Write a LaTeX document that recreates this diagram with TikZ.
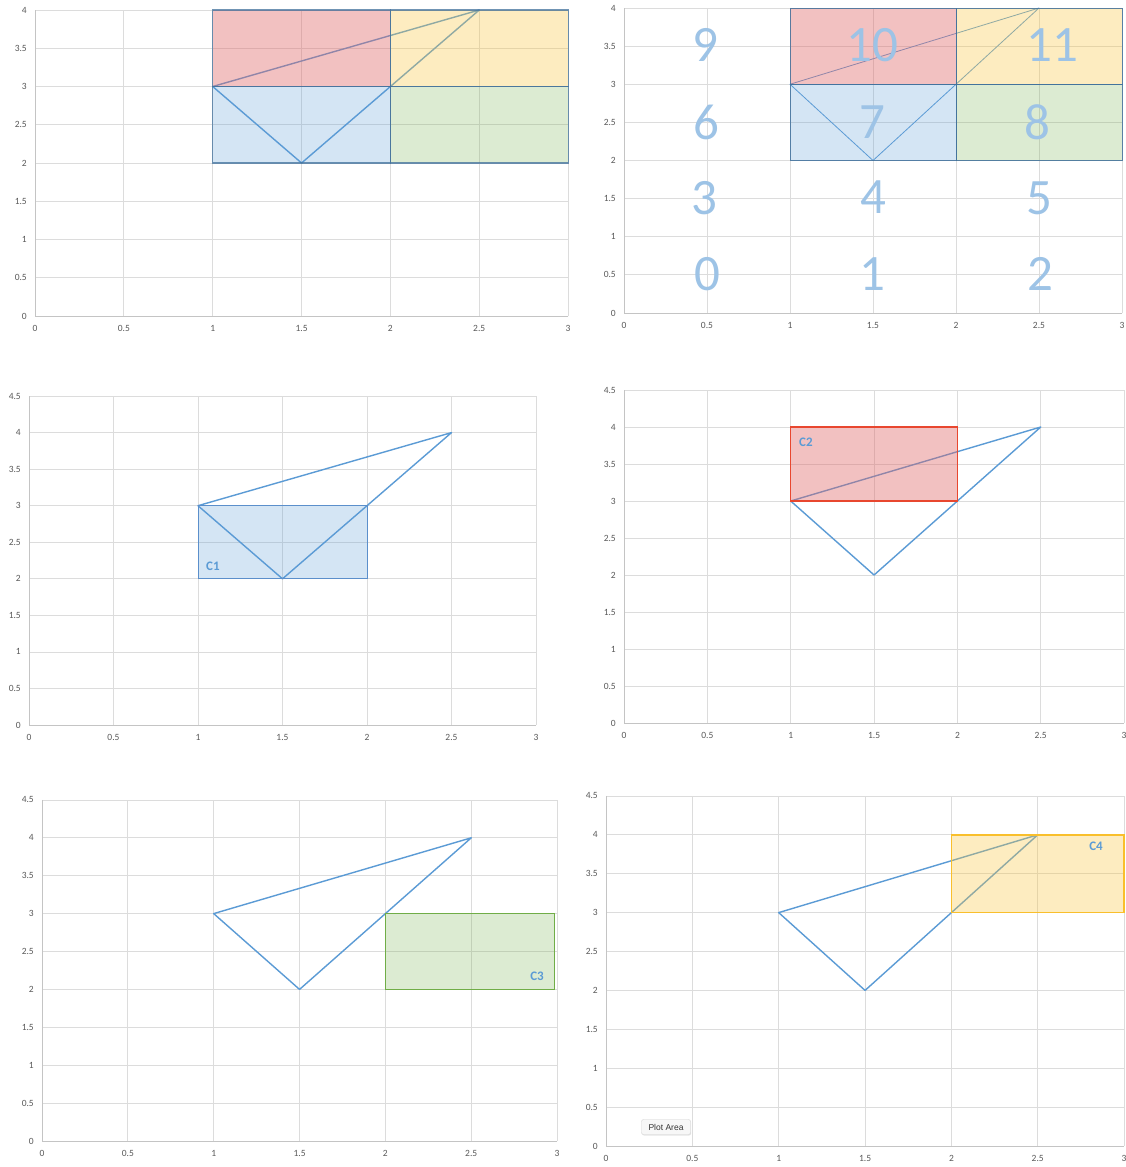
\documentclass[tikz,border=0pt]{standalone}
\usepackage{fontspec}
\setmainfont{Carlito}
\newfontfamily\tipfont{Liberation Sans}
\usetikzlibrary{shadows}
\definecolor{gridc}{HTML}{DCDCDC}
\definecolor{axc}{HTML}{C4C4C4}
\definecolor{tickc}{HTML}{595959}
\definecolor{triblue}{HTML}{5B9BD5}
\definecolor{redbase}{HTML}{E06666}
\definecolor{yelbase}{HTML}{F9C640}
\definecolor{bluebase}{HTML}{5B9BD5}
\definecolor{grnbase}{HTML}{70AD47}
\definecolor{numc}{HTML}{9DC3E6}
\definecolor{rectedge}{HTML}{41719C}
\definecolor{redline}{HTML}{E8472F}
\definecolor{yelline}{HTML}{F9BF2C}
\definecolor{grnline}{HTML}{70AD47}
\definecolor{c1line}{HTML}{5B8FCB}
\tikzset{
  gridline/.style={draw=gridc, line width=0.8pt},
  axisline/.style={draw=axc, line width=1pt},
  ticklbl/.style={font=\fontsize{9.5}{10}\selectfont, text=tickc, inner sep=0pt},
  tri/.style={draw=triblue, line width=1.4pt, line join=round},
  trithin/.style={draw=triblue, line width=0.8pt, line join=round},
  redfill/.style={fill=redbase, fill opacity=0.4},
  yelfill/.style={fill=yelbase, fill opacity=0.33},
  bluefill/.style={fill=bluebase, fill opacity=0.26},
  grnfill/.style={fill=grnbase, fill opacity=0.24},
  edgeA/.style={draw=rectedge, draw opacity=0.75, line width=1.1pt},
  edgeB/.style={draw=rectedge, draw opacity=0.85, line width=1pt},
  bignum/.style={font=\fontsize{51}{51}\selectfont, text=numc, inner sep=0pt},
  clabel/.style={font=\fontsize{13}{13}\selectfont\bfseries, text=triblue, inner sep=0pt},
  tooltip/.style={draw=black!18, fill=black!3, rounded corners=2pt, font=\tipfont\fontsize{8.5}{9}\selectfont,
    text=black!80, minimum width=49pt, minimum height=15pt, inner sep=1pt,
    drop shadow={opacity=0.2, shadow xshift=0.6pt, shadow yshift=-1pt}},
}
% #1 name prefix, #2 ymax, #3 list of y values
\newcommand\chartframe[3]{%
  \foreach \v [count=\k] in {0,0.5,1,1.5,2,2.5,3} {%
    \draw[gridline] (\v,0) -- (\v,#2);
    \node[ticklbl] (#1x\k) at ([yshift=-12pt]\v,0) {\v};}
  \foreach \v [count=\k] in {#3} {%
    \draw[gridline] (0,\v) -- (3,\v);
    \node[ticklbl, anchor=east] (#1y\k) at ([xshift=-8pt]0,\v) {\v};}
  \draw[axisline] (0,#2) -- (0,0) -- (3,0);
}
\newcommand\trianglepts[1]{%
  \coordinate (#1a) at (1,3);
  \coordinate (#1b) at (1.5,2);
  \coordinate (#1c) at (2,3);
  \coordinate (#1d) at (2.5,4);
}
\begin{document}
\begin{tikzpicture}[x=1pt,y=1pt]
\useasboundingbox[fill=white] (0,0) rectangle (1126,-1167);

% ---------- Panel 1 ----------
\begin{scope}[shift={(35pt,-316pt)}, x={(177.7pt,0pt)}, y={(0pt,76.5pt)}]
  \chartframe{pA}{4}{0,0.5,1,1.5,2,2.5,3,3.5,4}
  \trianglepts{pA}
  \draw[tri] (pAa) -- (pAb) -- (pAc) -- (pAd) -- cycle;
  \fill[bluefill] (1,2) rectangle (2,3);
  \fill[grnfill] (2,2) rectangle (3,3);
  \fill[redfill] (1,3) rectangle (2,4);
  \fill[yelfill] (2,3) rectangle (3,4);
  \draw[edgeA] (1,2) rectangle (2,3);
  \draw[edgeA] (2,2) rectangle (3,3);
  \draw[edgeA] (1,3) rectangle (2,4);
  \draw[edgeA] (2,3) rectangle (3,4);
\end{scope}

% ---------- Panel 2 ----------
\begin{scope}[shift={(624pt,-313pt)}, x={(166pt,0pt)}, y={(0pt,76.25pt)}]
  \chartframe{pB}{4}{0,0.5,1,1.5,2,2.5,3,3.5,4}
  \trianglepts{pB}
  \draw[trithin] (pBa) -- (pBb) -- (pBc) -- (pBd) -- cycle;
  \fill[bluefill] (1,2) rectangle (2,3);
  \fill[grnfill] (2,2) rectangle (3,3);
  \fill[redfill] (1,3) rectangle (2,4);
  \fill[yelfill] (2,3) rectangle (3,4);
  \draw[edgeB] (1,2) rectangle (2,3);
  \draw[edgeB] (2,2) rectangle (3,3);
  \draw[edgeB] (1,3) rectangle (2,4);
  \draw[edgeB] (2,3) rectangle (3,4);
\end{scope}
\node[bignum] (n9)  at (705,-45) {9};
\node[bignum] (n10) at (872,-45) {10};
\node[bignum] (n11) at (1052,-45) {11};
\node[bignum] (n6)  at (706,-122) {6};
\node[bignum] (n7)  at (872,-122) {7};
\node[bignum] (n8)  at (1037,-122) {8};
\node[bignum] (n3)  at (704,-198) {3};
\node[bignum] (n4)  at (873,-197) {4};
\node[bignum] (n5)  at (1039,-198) {5};
\node[bignum] (n0)  at (707,-274) {0};
\node[bignum] (n1)  at (872,-274) {1};
\node[bignum] (n2)  at (1040,-274) {2};

% ---------- Panel 3 ----------
\begin{scope}[shift={(29pt,-725pt)}, x={(169pt,0pt)}, y={(0pt,73.1pt)}]
  \chartframe{pC}{4.5}{0,0.5,1,1.5,2,2.5,3,3.5,4,4.5}
  \trianglepts{pC}
  \draw[tri] (pCa) -- (pCb) -- (pCc) -- (pCd) -- cycle;
  \fill[bluefill] (1,2) rectangle (2,3);
  \draw[draw=c1line, line width=1pt] (1,2) rectangle (2,3);
\end{scope}
\node[clabel, anchor=west] (C1) at (206,-566) {C1};

% ---------- Panel 4 ----------
\begin{scope}[shift={(624pt,-723pt)}, x={(166.7pt,0pt)}, y={(0pt,74pt)}]
  \chartframe{pD}{4.5}{0,0.5,1,1.5,2,2.5,3,3.5,4,4.5}
  \trianglepts{pD}
  \draw[tri] (pDa) -- (pDb) -- (pDc) -- (pDd) -- cycle;
  \fill[redfill] (1,3) rectangle (2,4);
  \draw[draw=redline, line width=1.4pt] (1,3) rectangle (2,4);
\end{scope}
\node[clabel, anchor=west] (C2) at (799,-442) {C2};

% ---------- Panel 5 ----------
\begin{scope}[shift={(42pt,-1141pt)}, x={(171.7pt,0pt)}, y={(0pt,75.8pt)}]
  \chartframe{pE}{4.5}{0,0.5,1,1.5,2,2.5,3,3.5,4,4.5}
  \trianglepts{pE}
  \draw[tri] (pEa) -- (pEb) -- (pEc) -- (pEd) -- cycle;
  \fill[grnfill] (2,2) rectangle (2.985,3);
  \draw[draw=grnline, line width=1.4pt] (2,2) rectangle (2.985,3);
\end{scope}
\node[clabel, anchor=east] (C3) at (544,-976) {C3};

% ---------- Panel 6 ----------
\begin{scope}[shift={(606pt,-1146pt)}, x={(172.7pt,0pt)}, y={(0pt,77.8pt)}]
  \chartframe{pF}{4.5}{0,0.5,1,1.5,2,2.5,3,3.5,4,4.5}
  \trianglepts{pF}
  \draw[tri] (pFa) -- (pFb) -- (pFc) -- (pFd) -- cycle;
  \fill[yelfill] (2,3) rectangle (3,4);
  \draw[draw=yelline, line width=1.4pt] (2,3) rectangle (3,4);
\end{scope}
\node[clabel] (C4) at (1096,-846) {C4};
\node[tooltip] (tip) at (666,-1127) {Plot Area};
\end{tikzpicture}
\end{document}
